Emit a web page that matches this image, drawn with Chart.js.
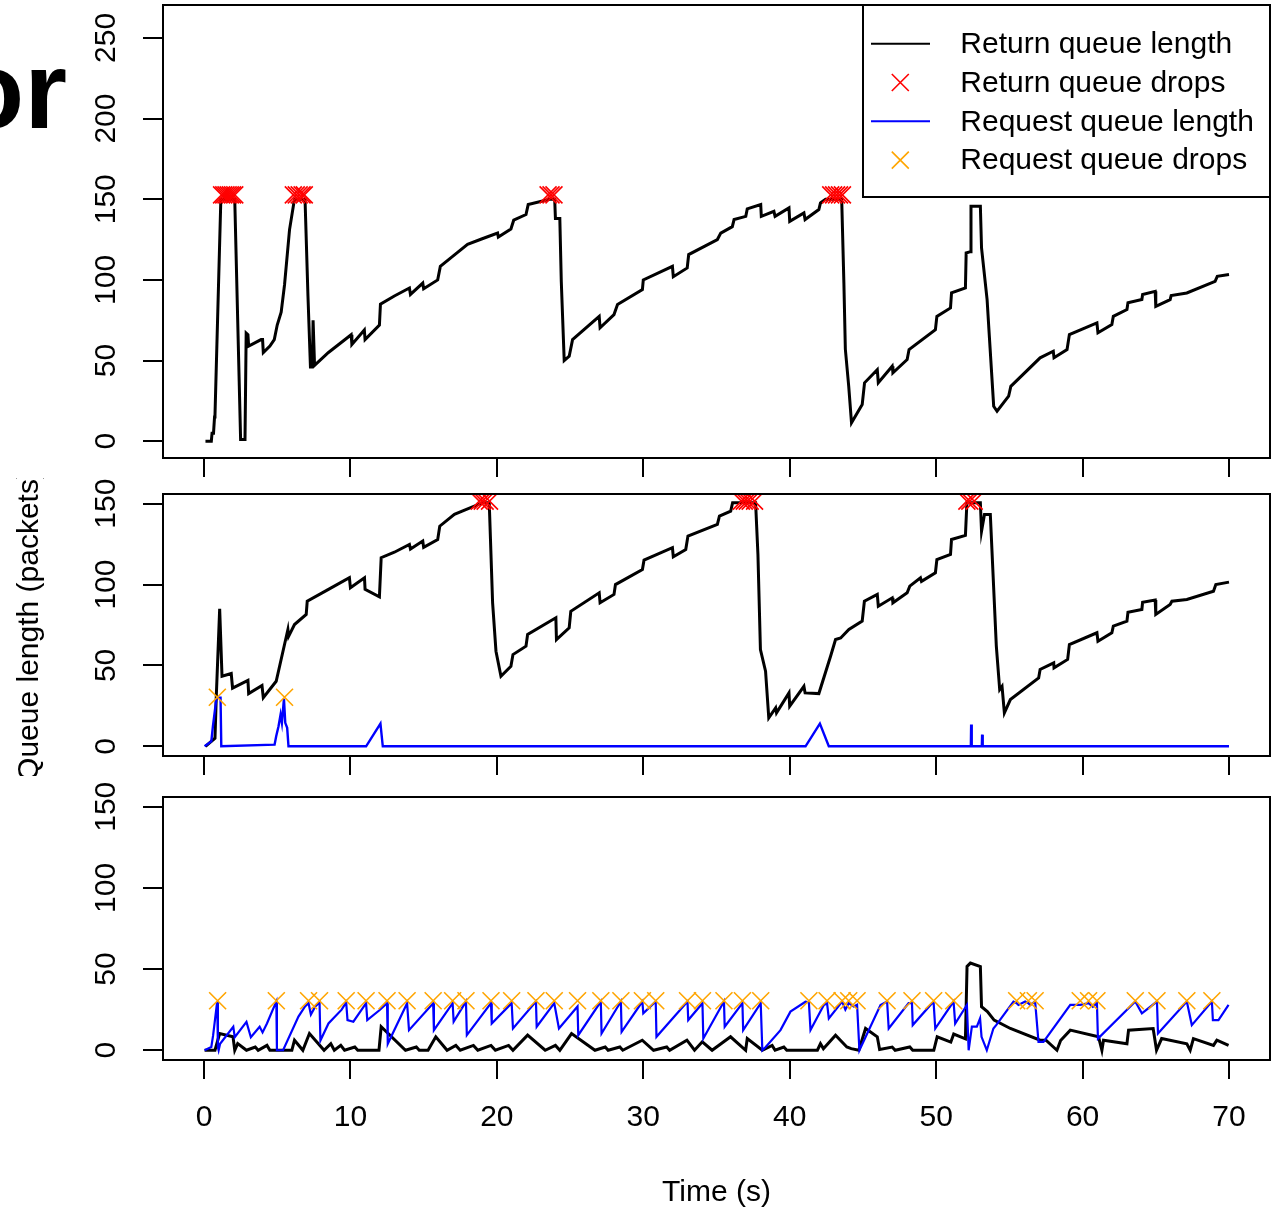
<!DOCTYPE html>
<html>
<head>
<meta charset="utf-8">
<script src="https://cdn.jsdelivr.net/npm/chart.js@4.4.0/dist/chart.umd.min.js"></script>
<style>
  html, body { margin: 0; padding: 0; background: #fff; }
  body { width: 1276px; height: 1213px; position: relative; overflow: hidden; }
  .panel { position: absolute; left: 0; width: 1276px; }
  #title_cut { position: absolute; left: -43px; top: 35px; font: bold 110px 'Liberation Sans', Arial, sans-serif; line-height: 1; color: #000; }
</style>
</head>
<body>
<div id="title_cut">or</div>
<div class="panel" style="top:0;height:478px"><canvas id="c1"></canvas></div>
<div class="panel" style="top:478px;height:298px"><canvas id="c2"></canvas></div>
<div class="panel" style="top:776px;height:437px"><canvas id="c3"></canvas></div>
<script>

// ---- values (time in s, queue length in packets) ----
const x_ticks = [0, 10, 20, 30, 40, 50, 60, 70];
const y_ticks_top = [0, 50, 100, 150, 200, 250];
const y_ticks_low = [0, 50, 100, 150];

// panel 1
const p1_ret_t = [0.1,0.5,0.55,0.65,0.72,0.75,1.15,2.1,2.5,2.8,2.88,3.0,3.05,3.9,4.0,4.05,4.5,4.8,5.0,5.27,5.5,5.84,6.14,6.2,6.9,7.1,7.27,7.4,7.45,7.55,8.5,10.05,10.1,10.95,11.0,11.98,12.05,13,14.03,14.1,14.94,15.0,15.96,16.14,16.98,18.0,19,20.05,20.1,20.96,21.15,21.99,22.14,23.6,23.95,24.0,24.3,24.4,24.6,24.94,25.17,26.99,27.05,28.0,28.24,29.94,30.0,31.99,32.05,33.0,33.1,35.06,35.29,36.08,36.2,37.0,37.1,38.02,38.06,38.92,39.0,39.95,40.0,40.97,41.05,41.99,42.1,42.45,43.55,43.7,43.8,44.03,44.22,44.95,45.11,45.98,46.05,47.0,47.05,48.02,48.15,49.95,50.05,50.98,51.05,52.0,52.05,52.34,52.38,53.02,53.1,53.48,53.59,53.93,54.16,54.95,55.1,57.1,58.0,58.05,58.94,59.1,60.98,61.05,62.0,62.1,63.03,63.1,64.05,64.1,64.96,65.0,65.98,66.05,67.12,69.05,69.2,70.0];
const p1_ret_q = [0,0,5,5,15,16,150,150,1,1,67,66,59,63,63,55,59,63,72,80,97,131,148,150,150,90,46,46,75,47,55,66,60,69,63,72,85,90,95,91,98,94.5,100,108.4,114.6,122,125.5,129,126.6,131.6,137,140.5,146.7,150,150,138,138,99,50,52.7,63,77.4,70.3,78.5,84.7,94,100,108.4,102,107.4,115.7,125,129,133,137.4,139.4,144,146.7,139.4,142.5,139.4,144.6,136.3,141.5,137.4,143.6,147.7,150,150,98,57,34,11.4,22.7,36.2,44.4,36.2,46.5,42.4,50.6,56.8,69.2,77.4,82.6,92,95,116.7,117.5,145.6,145.6,119.8,87.8,71.3,21.7,18.6,27.9,34,51.7,55.8,51.7,56.8,66.1,73.4,67.2,72.3,77.4,81.6,85.8,87.8,90.9,92.9,83.6,87.8,90.3,91.9,99.1,102.2,103.3];
const p1_ret_drop_t = [1.2,1.35,1.5,1.65,1.8,1.95,2.1,6.1,6.3,6.5,6.7,6.85,23.5,23.7,23.9,42.8,43.0,43.2,43.4,43.6];
const p1_ret_drop_q = 152.7;

// panel 2
const p2_ret_t = [0.1,0.75,0.84,1.07,1.23,1.86,1.95,3.0,3.05,3.96,4.05,4.93,5.73,5.78,6.18,6.98,7.05,8.5,9.93,10.0,10.96,11.0,11.98,12.1,13,14.03,14.1,14.94,15.0,15.96,16.1,17.1,19.03,19.48,19.71,19.94,20.28,20.96,21.1,21.99,22.1,24.03,24.07,24.94,25.05,26.99,27.05,28.0,28.1,29.94,30.05,31.99,32.05,32.9,33.05,35.06,35.2,35.97,36.1,37.67,37.83,38.0,38.35,38.57,39.04,39.1,39.95,40.0,40.97,41.05,41.99,42.79,43.13,43.48,44.04,44.95,45.1,45.98,46.05,47.0,47.05,48.02,48.2,48.93,49.0,49.95,50.05,50.98,51.05,52.0,52.1,53.02,53.1,53.3,53.7,54.11,54.34,54.5,54.66,55.07,57.0,57.1,58.03,58.05,58.98,59.1,60.98,61.05,62.0,62.1,63.03,63.1,64.05,64.1,64.96,65.0,65.98,66.1,67.12,68.94,69.1,70];
const p2_ret_q = [0,5,31,85,43.3,45,36,40.8,32.6,37.6,30,40.2,72.2,68,75.3,81.5,89.7,97,104.2,98,104.2,97,92.4,116.6,120,124.8,122,126.9,123,127.9,136.1,143.4,150.6,150.6,88.7,58.8,43.3,49.5,56.7,61.9,69.1,79.5,66,73.3,83.5,94.9,88.7,93.9,100,109.3,115.1,122.8,117.2,121.7,130,137.2,142.3,145.4,150.6,150.6,118.6,59.8,46.4,17.6,23.8,20.7,33,24.8,37.1,33,32.6,55.7,66,67,72.2,77.4,89.7,93.9,86.6,91.8,88.7,94.9,99,104.2,102,107.3,115.5,118.6,127.9,130.4,150.6,150.6,133,143.4,143.4,61.9,35.1,37.1,20.6,28.9,42.3,47.5,51.6,48.5,53.7,62.9,70.2,65,70.2,74.3,77.4,82.9,84.6,89.1,90.4,81.5,87.7,89.7,90.8,95.9,100,101.5];
const p2_req_t = [0.04,0.5,0.61,0.84,0.95,1.13,1.18,4.82,4.93,5.09,5.23,5.32,5.46,5.55,5.68,5.77,11.07,12.05,12.21,41.08,42.06,42.67,52.37,52.39,52.43,53.12,53.14,53.18,70];
const p2_req_q = [0,3,12.4,29,30,30,0,1,6.2,12.4,19.6,14.5,29.3,14.5,11.4,0,0,14,0,0,14,0,0,13.4,0,0,7.2,0,0];
const p2_ret_drop_t = [18.8,19.0,19.2,19.5,36.7,36.9,37.1,37.3,37.6,52.1,52.3,52.6];
const p2_ret_drop_q = 151.6;
const p2_req_drop_t = [0.91, 5.5];
const p2_req_drop_q = 30.3;

// panel 3
const p3_ret_t = [0.04,0.75,1.07,1.98,2.1,2.3,2.9,3.5,3.7,4.3,4.5,6.0,6.18,6.75,7.2,8.2,8.66,8.9,9.34,9.6,10.3,10.5,11.95,12.1,13.76,14.5,14.7,15.3,15.83,16.6,17.2,17.5,18.4,18.7,19.6,19.9,20.8,21.1,22.1,23.3,24.0,24.3,25.1,26.7,27.4,27.6,28.4,28.6,29.93,30.7,31.6,31.8,32.98,33.5,34.03,34.7,35.96,36.99,37.1,38.13,38.8,39.0,39.6,39.8,41.89,42.1,42.3,43.13,43.9,44.2,44.72,45.18,45.98,46.14,47.0,47.2,48.2,48.4,49.84,50.07,51.0,51.2,52.0,52.11,52.34,53.02,53.1,53.5,53.96,55.07,57.1,57.5,58.25,58.5,59.16,61.09,61.32,61.43,63.03,63.14,64.82,65.05,65.4,67.12,67.35,67.57,68.94,69.17,69.97];
const p3_ret_q = [0,0,10.3,8.3,0,4.1,0,2,0,3,0,0,6.2,0,10.3,0,4,0,3,0,2,0,0,14.5,0,2,0,0,8.3,0,3,0,3,0,3,0,3,0,9.3,0,3,0,10.3,0,2,0,2,0,6.2,0,2,0,6.2,0,5.2,0,8.3,0,7.2,0,3,0,2,0,0,4,1,9.3,2,1,0,13.4,8.3,0.5,2,0,2,0,0,8.3,5,10,7,51.6,53.7,51.6,26.8,23.8,18.6,13.4,6.2,6.2,0,6,12.4,8.3,0,6.2,4,12.4,13.4,0,7.2,4,0,7.2,3,6.2,3];
const p3_req_t = [0.04,0.5,0.62,0.9,0.95,1.0,1.1,2.0,2.1,2.9,3.2,3.8,4.0,4.3,4.7,4.94,4.98,5.4,6.45,6.9,7.14,7.3,7.6,7.89,7.95,8.5,9.4,9.71,9.8,10.2,11.07,11.15,12.0,12.5,12.55,13.87,14.0,15.65,15.7,16.98,17.05,17.89,17.95,19.6,19.65,21.01,21.1,22.67,22.72,23.92,24.24,25.51,25.56,27.1,27.15,28.47,28.52,29.94,30.0,30.85,30.9,33.02,33.07,34.04,34.1,35.51,35.56,36.77,36.82,38.02,38.13,38.36,39.37,40.05,41.08,41.31,41.42,42.33,42.55,42.67,43.58,43.8,44.03,44.37,44.6,44.76,46.2,46.65,46.76,48.12,48.35,48.4,49.72,49.83,49.94,51.19,51.3,52.1,52.22,52.44,52.78,53.0,53.1,53.46,53.91,54.1,55.28,55.5,55.62,56.08,56.3,56.42,56.76,56.99,57.33,59.16,59.84,60.41,60.7,60.98,61.05,63.6,64.05,65.08,65.15,67.12,67.46,68.83,68.9,69.28,69.97];
const p3_req_q = [0,2,9,30,2,0,4,14.5,8,17.5,8,14.5,11,16.5,25,30,0,0,20.7,27,29,22,27,29.5,6,16.5,25,29.5,18.6,17.6,29,18.6,24.8,29,4,29,12.4,29,12.4,29,17.6,30,9.3,29,16.5,29,13.4,30,14.5,29,13.4,27,9.3,30,10.3,30,11.4,30,22.7,30,8.3,30,18.6,29,7.2,30,14.5,29,12.4,29,0,2,12.4,23.8,29.9,29.5,12.4,27.9,29,19.6,30,25,29,27,28,0,27.9,30,13.4,29,29,15.5,29,29,13.4,30,16.5,27.9,0,14.5,14.5,19.6,8.3,0,13.4,15.5,30,29,27.9,30,29,27.9,30,5.2,5.2,27.9,28,29,26.8,29,7.2,30,22.7,30,10.3,30,15.5,30,18.6,18.6,27.9];
const p3_req_drop_t = [0.93,4.94,7.14,7.89,9.71,11.07,12.5,13.87,15.65,16.98,17.89,19.6,21.01,22.67,23.92,25.51,27.1,28.47,29.94,30.85,33.02,34.04,35.51,36.77,38.02,41.31,42.55,43.58,44.03,44.6,46.65,48.35,49.83,51.2,55.5,56.3,56.76,59.84,60.41,60.98,63.6,65.08,67.12,68.83];
const p3_req_drop_q = 30.5;

const legend_items = [
  {label: 'Return queue length', kind: 'line', color: '#000000'},
  {label: 'Return queue drops', kind: 'cross', color: '#ff0000'},
  {label: 'Request queue length', kind: 'line', color: '#0000ff'},
  {label: 'Request queue drops', kind: 'cross', color: '#ffa500'}
];

// ---- helpers ----
const pts = (xs, ys) => xs.map((x, i) => ({x: x, y: ys[i]}));
const at_level = (xs, v) => xs.map(x => ({x: x, y: v}));

Chart.defaults.font.family = "'Liberation Sans', Arial, sans-serif";
Chart.defaults.font.size = 30;
Chart.defaults.color = '#000';

const line_ds = (data, color, width, order) => ({
  data: data, borderColor: color, borderWidth: width, pointRadius: 0, tension: 0, order: order
});
const cross_ds = (data, color, order) => ({
  data: data, showLine: false, pointStyle: 'crossRot', pointRadius: 12,
  borderColor: color, borderWidth: 1.6, order: order
});

// no extra room for the end labels, the plot box is placed by hand
const no_pad = s => {
  s.paddingTop = 0; s.paddingBottom = 0; s.paddingLeft = 0; s.paddingRight = 0;
};

// box round the plot region
const frame = {
  id: 'frame',
  afterDraw(chart){
    const {ctx, chartArea: a} = chart;
    ctx.save();
    ctx.strokeStyle = '#000';
    ctx.lineWidth = 2;
    ctx.strokeRect(a.left, a.top, a.right - a.left, a.bottom - a.top);
    ctx.restore();
  }
};

// boxed legend in the top right corner of the first panel
const box_legend = {
  id: 'box_legend',
  afterDraw(chart){
    const {ctx, chartArea: a} = chart;
    const w = 407, h = 192;
    const left = a.right - w, top = a.top;
    ctx.save();
    ctx.fillStyle = '#fff';
    ctx.fillRect(left, top, w, h);
    ctx.strokeStyle = '#000';
    ctx.lineWidth = 2;
    ctx.strokeRect(left, top, w, h);
    ctx.font = "30px 'Liberation Sans', Arial, sans-serif";
    ctx.textBaseline = 'middle';
    ctx.textAlign = 'left';
    legend_items.map((item, i) => {
      const y = top + 38.7 + i * 38.8;
      ctx.strokeStyle = item.color;
      ctx.beginPath();
      if(item.kind == 'line'){
        ctx.lineWidth = 2;
        ctx.moveTo(left + 8, y);
        ctx.lineTo(left + 67, y);
      }else{
        ctx.lineWidth = 1.6;
        const cx = left + 37.3, r = 8.5;
        ctx.moveTo(cx - r, y - r); ctx.lineTo(cx + r, y + r);
        ctx.moveTo(cx + r, y - r); ctx.lineTo(cx - r, y + r);
      }
      ctx.stroke();
      ctx.fillStyle = '#000';
      ctx.fillText(item.label, left + 97.3, y + 1);
    });
    ctx.restore();
  }
};

const make_scales = (ymin, ymax, yticks, x_height, show_x, y_title, x_title) => ({
  x: {
    type: 'linear', min: -2.8, max: 72.8,
    afterBuildTicks: s => { s.ticks = x_ticks.map(v => ({value: v})); },
    afterFit: s => { s.height = x_height; no_pad(s); },
    grid: {drawOnChartArea: false, drawTicks: true, tickLength: 19, lineWidth: 2, tickWidth: 2, tickColor: '#000'},
    border: {display: false},
    ticks: {display: show_x, padding: 21, maxRotation: 0, autoSkip: false},
    title: {display: !!x_title, text: x_title || '', padding: {top: 0, bottom: 2}}
  },
  y: {
    type: 'linear', min: ymin, max: ymax,
    afterBuildTicks: s => { s.ticks = yticks.map(v => ({value: v})); },
    afterFit: s => { s.width = 163; no_pad(s); },
    grid: {drawOnChartArea: false, drawTicks: true, tickLength: 20, lineWidth: 2, tickWidth: 2, tickColor: '#000'},
    border: {display: false},
    ticks: {minRotation: 90, maxRotation: 90, crossAlign: 'center', padding: 11, autoSkip: false},
    title: {display: !!y_title, text: y_title || '', padding: {top: 12, bottom: 0}}
  }
});

const base_opts = (scales, pad_top) => ({
  responsive: true,
  maintainAspectRatio: false,
  animation: false,
  events: [],
  layout: {autoPadding: false, padding: {top: pad_top, right: 6, left: 0, bottom: 0}},
  plugins: {legend: {display: false}, tooltip: {enabled: false}},
  scales: scales
});

// top panel
new Chart(document.querySelector('#c1'), {
  type: 'line',
  data: {datasets: [
    line_ds(pts(p1_ret_t, p1_ret_q), '#000000', 3, 2),
    cross_ds(at_level(p1_ret_drop_t, p1_ret_drop_q), '#ff0000', 1)
  ]},
  options: base_opts(make_scales(-10.4, 270.4, y_ticks_top, 20, false), 5),
  plugins: [frame, box_legend]
});

// middle panel
new Chart(document.querySelector('#c2'), {
  type: 'line',
  data: {datasets: [
    line_ds(pts(p2_ret_t, p2_ret_q), '#000000', 3, 4),
    cross_ds(at_level(p2_ret_drop_t, p2_ret_drop_q), '#ff0000', 3),
    line_ds(pts(p2_req_t, p2_req_q), '#0000ff', 2.4, 2),
    cross_ds(at_level(p2_req_drop_t, p2_req_drop_q), '#ffa500', 1)
  ]},
  options: base_opts(make_scales(-6, 156, y_ticks_low, 20, false, 'Queue length (packets)'), 16),
  plugins: [frame]
});

// bottom panel
new Chart(document.querySelector('#c3'), {
  type: 'line',
  data: {datasets: [
    line_ds(pts(p3_ret_t, p3_ret_q), '#000000', 3, 4),
    line_ds(pts(p3_req_t, p3_req_q), '#0000ff', 2.2, 2),
    cross_ds(at_level(p3_req_drop_t, p3_req_drop_q), '#ffa500', 1)
  ]},
  options: base_opts(make_scales(-6, 156, y_ticks_low, 153, true, null, 'Time (s)'), 21),
  plugins: [frame]
});
</script>
</body>
</html>
